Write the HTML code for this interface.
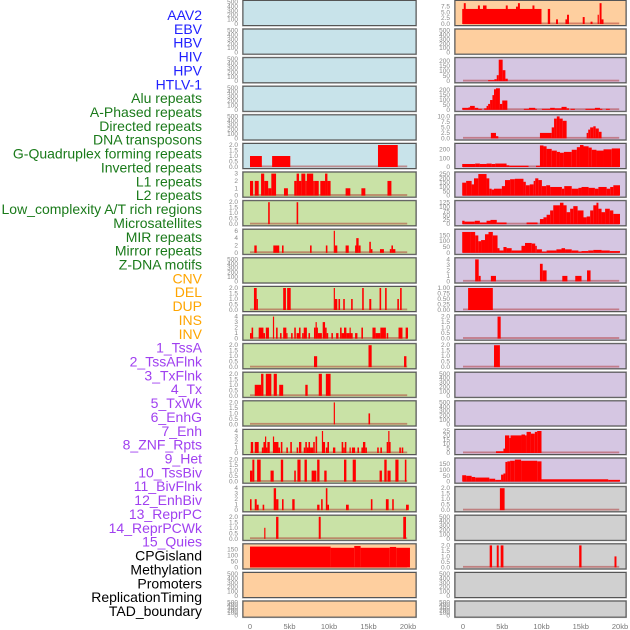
<!DOCTYPE html>
<html><head><meta charset="utf-8"><style>
html,body{margin:0;padding:0;background:#fff;width:630px;height:630px;overflow:hidden}
svg{display:block;font-family:"Liberation Sans",sans-serif}
</style></head><body>
<svg id="chart" width="630" height="630" viewBox="0 0 630 630" xmlns="http://www.w3.org/2000/svg"></svg>
<script>
// ---- track labels ----
const trackLabels = ["AAV2","EBV","HBV","HIV","HPV","HTLV-1","Alu repeats","A-Phased repeats","Directed repeats","DNA transposons","G-Quadruplex forming repeats","Inverted repeats","L1 repeats","L2 repeats","Low_complexity A/T rich regions","Microsatellites","MIR repeats","Mirror repeats","Z-DNA motifs","CNV","DEL","DUP","INS","INV","1_TssA","2_TssAFlnk","3_TxFlnk","4_Tx","5_TxWk","6_EnhG","7_Enh","8_ZNF_Rpts","9_Het","10_TssBiv","11_BivFlnk","12_EnhBiv","13_ReprPC","14_ReprPCWk","15_Quies","CPGisland","Methylation","Promoters","ReplicationTiming","TAD_boundary"];
const labelGroups = [6,13,5,15,5];
const groupColors = ["#2020ff","#1a7a1a","#ffa500","#a040f0","#000000"];
const xTicks = [0,5,10,15,20];
const xTickLabels = ["0","5kb","10kb","15kb","20kb"];

// ---- left column bars [startKb,endKb,value] ----
const L5 = [[0,1.5,1],[2.8,5.1,1],[16.2,18.7,2]];
const L6 = [[0,0.4,2],[0.6,1.1,2],[1.4,1.8,3],[1.8,2.3,2],[2.3,2.7,1],[2.7,3.3,3],[4.3,4.8,1],[5.6,5.9,2],[5.9,6.2,3],[6.2,6.5,2],[6.5,7.0,3],[7.0,7.2,2],[7.2,8.0,3],[8.0,8.2,2],[8.2,8.7,2],[8.9,9.5,2],[9.5,9.8,3],[9.8,10.2,2],[12.1,12.7,1],[14.1,14.6,1],[17.4,17.9,2]];
const L7 = [[2.3,2.5,2],[5.9,6.1,2]];
const L8 = [[0.55,0.85,2],[2.95,3.7,2],[4.05,4.25,2],[7.6,7.8,2],[9.6,9.8,2],[10.6,10.75,6],[10.75,11.05,2],[12.1,12.5,2],[13.3,13.5,2],[13.45,13.75,4],[13.75,14,2],[15.1,15.3,3],[15.3,15.5,1],[16.45,16.95,1],[17.7,17.9,1],[17.9,18.1,2],[18.1,18.4,1]];
const L10 = [[0.5,0.85,2],[0.85,1,1],[4.2,4.55,2],[4.7,5.15,2],[10.6,10.75,2],[10.75,11.05,1],[11.2,11.4,1],[11.8,12,1],[12.8,13,1],[14.2,14.4,2],[15.1,15.35,1],[16.4,16.6,2],[17.1,17.3,2],[18.65,18.85,1],[19,19.2,2]];
const L11 = [[0,0.2,1],[0.2,0.4,2],[1.1,1.7,2],[1.7,1.9,1],[2.0,2.4,2],[2.9,3.0,4],[3.3,3.5,2],[3.8,4.0,1],[4.2,4.6,2],[4.6,4.7,1],[5.2,5.4,1],[5.6,5.8,2],[5.9,6.2,1],[6.2,6.4,2],[6.6,6.8,1],[6.8,7.2,2],[7.4,7.6,1],[8.1,8.3,2],[8.3,8.4,3],[8.4,8.6,2],[8.6,9.1,1],[9.2,9.5,3],[9.5,9.7,2],[9.7,9.9,1],[10.3,10.5,1],[10.9,11.2,1],[11.4,11.6,2],[11.6,11.9,1],[11.9,12.2,2],[12.2,12.6,1],[12.6,12.7,2],[12.7,13.0,1],[13.3,13.6,1],[14.1,14.3,2],[15.5,15.9,2],[15.9,16.5,1],[16.5,17.2,2],[17.3,17.5,1],[18.8,19.3,2],[19.7,20.0,2]];
const L12 = [[8.1,8.5,1],[15.0,15.4,2],[19.5,19.8,1]];
const L13 = [[0.6,1.4,1],[1.4,1.7,2],[2.0,2.7,2],[3.0,3.4,2],[3.7,4.2,1],[7.0,7.3,1],[8.7,9.1,2],[9.6,10.2,2]];
const L14 = [[10.6,10.75,2],[15.0,15.2,1]];
const L15 = [[0.1,0.4,2],[0.6,1.1,2],[1.5,1.7,1],[1.7,1.9,2],[1.9,2.0,3],[2.0,2.2,1],[2.2,2.5,2],[2.9,3.0,3],[3.0,3.6,2],[3.6,3.8,1],[3.9,4.1,2],[4.6,4.8,1],[5.1,5.3,2],[5.9,6.1,1],[6.2,6.5,2],[6.8,7.0,1],[7.0,7.2,2],[7.2,7.4,1],[7.4,7.6,2],[7.6,8.0,1],[8.0,8.2,2],[8.3,8.5,3],[9.1,9.2,4],[9.2,9.5,2],[9.6,9.8,1],[9.8,10.0,2],[10.5,10.8,1],[11.6,11.8,2],[11.8,12.0,1],[12.0,12.2,2],[12.6,12.7,1],[12.9,13.3,1],[13.6,13.8,1],[14.1,14.3,1],[14.3,14.6,2],[14.6,14.8,1],[16.1,16.3,1],[16.5,16.7,1],[17.3,17.5,2],[17.5,17.6,4],[17.6,17.8,2],[18.9,19.1,1],[19.2,19.4,1]];
const L16 = [[0,0.3,1],[0.3,0.55,2],[0.9,1.35,2],[2.6,3.0,1],[3.9,4.2,2],[5.6,5.8,1],[6.0,6.4,2],[6.9,7.2,2],[7.8,8.4,1],[8.5,8.8,2],[9.4,9.7,1],[11.9,12.2,2],[13.0,13.4,2],[16.4,16.7,1],[17.0,17.3,2],[17.4,17.8,1],[18.4,18.8,2],[19.6,19.8,2]];
const L17 = [[0,0.2,2],[0.6,0.85,2],[0.85,1.1,1],[1.6,1.8,1],[3.0,3.3,4],[3.3,3.6,2],[4.05,4.25,2],[5.35,5.65,2],[8.5,8.8,1],[9.0,9.2,2],[9.6,9.8,4],[9.8,10.0,1],[12.15,12.5,1],[15.3,15.5,2],[17.2,17.55,2],[18.0,18.2,2],[19.75,20.1,1]];
const L18 = [[1.8,1.95,1],[3.3,3.6,2],[8.7,8.95,2],[19.4,19.75,2]];
const L19 = [[0,10.2,175],[10.2,13.2,165],[13.2,14.0,180],[14.0,17.7,165],[17.7,18.5,172],[18.5,20.25,165]];

// ---- right column ----
const R0 = [[-0.1,10.0,6.5],[0.1,0.35,9],[1.9,2.15,8],[2.55,3.0,8],[5.45,5.7,8],[6.75,7.0,7.5],[7.0,7.25,9],[8.85,9.1,8],[10.8,11.1,6.5],[11.85,12.1,2],[13.05,13.25,2],[13.25,13.5,4],[15.25,15.5,3],[16.25,16.5,1],[17.15,17.3,4],[17.4,17.65,9],[17.65,17.9,2]];
const R2 = [[3.2,4.0,10],[4.0,4.3,20],[4.3,4.55,60],[4.55,5.05,215],[5.05,5.4,110],[5.4,5.7,25]];
const R3 = [[-0.1,0.7,20],[0.7,0.9,25],[0.9,1.5,40],[1.5,1.95,20],[1.95,2.4,10],[2.7,3.0,15],[3.0,3.2,40],[3.2,3.45,60],[3.45,3.75,100],[3.75,3.95,150],[3.95,4.2,210],[4.2,4.7,220],[4.7,5.0,60],[5.0,5.65,95],[7.75,8.4,10],[8.4,9.2,20],[9.2,9.4,10],[10.05,11.1,10],[11.1,11.7,20],[11.7,12.55,15],[12.55,13.2,30],[13.2,13.5,15],[13.7,14.25,10],[15.6,16.8,10],[16.8,17.45,20],[17.45,17.75,10],[18.2,18.7,10]];
const R4 = [[3.55,4.2,2.5],[4.2,4.5,1],[9.8,11.3,2.5],[11.3,11.6,5],[11.6,11.95,9],[11.95,12.3,10],[12.3,12.7,9],[12.7,13.2,8],[15.75,15.95,2.5],[15.95,16.2,4],[16.2,16.6,5],[16.6,16.9,5.5],[16.9,17.3,4.5],[17.3,17.65,3]];
const R5edges = [-0.1,1.55,2.15,3.0,3.65,4.1,5.55,5.9,8.35,9.3,9.8,10.25,10.65,11.3,11.95,12.35,12.85,13.85,14.5,14.9,15.35,16.0,16.4,17.0,17.9,18.95,20.0];
const R5vals = [35,40,35,40,35,40,20,15,0,15,250,240,210,190,175,165,175,200,230,255,240,225,200,190,205,215];
const R6edges = [-0.1,0.4,1.1,1.4,1.95,3.0,3.35,3.65,3.95,4.95,5.35,6.0,6.6,7.7,8.0,8.5,9.0,9.2,9.6,10.05,10.6,11.1,12.6,12.9,13.85,14.7,15.1,16.0,16.8,17.25,18.3,18.75,19.15,20.0];
const R6vals = [150,170,130,200,250,200,80,70,80,110,180,190,195,160,120,130,170,200,180,110,120,100,80,110,80,90,100,90,80,100,80,100,120];
const R7edges = [-0.1,0.2,1.5,2.15,3.0,3.5,4.3,5.55,8.1,9.5,9.8,10.25,10.65,11.1,11.5,12.35,12.8,13.2,13.65,14.05,14.6,15.35,15.75,16.2,16.6,17.0,17.25,17.65,18.1,18.7,19.15,20.0];
const R7vals = [20,15,20,10,20,25,10,0,10,0,30,40,55,80,110,125,110,70,90,105,80,40,45,80,110,125,90,70,90,80,60];
const R8edges = [-0.1,0.9,1.55,1.95,2.3,2.8,3.25,3.8,4.4,4.65,5.15,5.55,6.2,7.45,7.9,8.75,9.2,9.4,10.05,10.65,11.9,12.55,13.0,13.85,14.7,15.1,15.95,16.6,17.65,18.7,20.0];
const R8vals = [180,180,150,100,110,160,180,150,40,20,50,40,20,60,85,80,60,30,10,20,30,40,30,20,10,15,20,25,20,15];
const R9 = [[1.55,2.0,4],[2.0,2.25,1],[3.55,4.2,1],[9.8,10.15,3.2],[10.15,10.65,2],[12.65,13.3,1],[14.3,15.1,1],[15.8,16.25,2]];
const R10 = [[0.65,3.8,1]];
const R11 = [[4.4,4.8,2]];
const R12 = [[3.95,4.7,2]];
const R15edges = [4.2,5.15,5.35,5.9,6.05,7.45,7.9,8.1,8.65,9.15,9.45,10.0];
const R15vals = [2,5,20,17,20,21,20,24,22,24,25];
const R16edges = [-0.1,0.4,1.1,1.55,3.35,4.1,4.85,5.15,5.4,5.65,6.0,6.6,7.4,9.45,10.0,18.5,20.0];
const R16vals = [55,50,40,35,25,15,60,70,170,175,180,190,180,175,20,15];
const R17 = [[4.7,5.3,2]];
const R19 = [[3.4,3.7,2],[4.3,4.55,2],[4.8,5.15,2],[14.8,15.1,2],[19.3,19.55,1]];

// tick sets
const T500 = [0,100,200,300,400,500];
const T500L = ["0","100","200","300","400","500"];
const T2 = [0,0.5,1,1.5,2];
const T2L = ["0.0","0.5","1.0","1.5","2.0"];
const T3 = [0,1,2,3]; const T3L = ["0","1","2","3"];
const T4 = [0,1,2,3,4]; const T4L = ["0","1","2","3","4"];
const T6 = [0,2,4,6]; const T6L = ["0","2","4","6"];
const T150 = [0,50,100,150]; const T150L = ["0","50","100","150"];
const T200 = [0,50,100,150,200]; const T200L = ["0","50","100","150","200"];
const T250 = [0,50,100,150,200,250]; const T250L = ["0","50","100","150","200","250"];
const T125 = [0,25,50,75,100,125]; const T125L = ["0","25","50","75","100","125"];
const T7 = [0,2.5,5,7.5]; const T7L = ["0.0","2.5","5.0","7.5"];
const T10 = [0,2.5,5,7.5,10]; const T10L = ["0.0","2.5","5.0","7.5","10.0"];
const T1 = [0,0.25,0.5,0.75,1]; const T1L = ["0.00","0.25","0.50","0.75","1.00"];
const TR5 = [0,100,200]; const TR5L = ["0","100","200"];
const T25 = [0,5,10,15,20,25]; const T25L = ["0","5","10","15","20","25"];

const BLUE="#c8e3ea", GREEN="#c9e2a6", PEACH="#fecf9f", PURPLE="#d5c6e2", GREY="#d0d0d0";
const leftPanels = [
 [BLUE,500,T500,T500L,null],[BLUE,500,T500,T500L,null],[BLUE,500,T500,T500L,null],[BLUE,500,T500,T500L,null],[BLUE,500,T500,T500L,null],
 [BLUE,2,T2,T2L,L5],[GREEN,3,T3,T3L,L6],[GREEN,2,T2,T2L,L7],[GREEN,6,T6,T6L,L8],[GREEN,500,T500,T500L,null],
 [GREEN,2,T2,T2L,L10],[GREEN,4,T4,T4L,L11],[GREEN,2,T2,T2L,L12],[GREEN,2,T2,T2L,L13],[GREEN,2,T2,T2L,L14],
 [GREEN,4,T4,T4L,L15],[GREEN,2,T2,T2L,L16],[GREEN,4,T4,T4L,L17],[GREEN,2,T2,T2L,L18],[PEACH,185,T150,T150L,L19],
 [PEACH,500,T500,T500L,null],[PEACH,500,T500,T500L,null]];
const rightPanels = [
 [PEACH,9.5,T7,T7L,R0],[PEACH,500,T500,T500L,null],[PURPLE,220,T200,T200L,R2],[PURPLE,225,T200,T200L,R3],[PURPLE,10,T10,T10L,R4],
 [PURPLE,255,TR5,TR5L,[R5edges,R5vals]],[PURPLE,255,T250,T250L,[R6edges,R6vals]],[PURPLE,128,T125,T125L,[R7edges,R7vals]],[PURPLE,190,T150,T150L,[R8edges,R8vals]],[PURPLE,4,T4,T4L,R9],
 [PURPLE,1,T1,T1L,R10],[PURPLE,2,T2,T2L,R11],[PURPLE,2,T2,T2L,R12],[PURPLE,500,T500,T500L,null],[PURPLE,500,T500,T500L,null],
 [PURPLE,25,T25,T25L,[R15edges,R15vals]],[PURPLE,190,T150,T150L,[R16edges,R16vals]],[GREY,2,T2,T2L,R17],[GREY,500,T500,T500L,null],[GREY,2,T2,T2L,R19],
 [GREY,500,T500,T500L,null],[GREY,500,T500,T500L,null]];

const NS="http://www.w3.org/2000/svg";
const svg=document.getElementById('chart');
function mk(tag,attrs,parent){const e=document.createElementNS(NS,tag);for(const k in attrs)e.setAttribute(k,attrs[k]);(parent||svg).appendChild(e);return e;}

// labels
let li=0;
labelGroups.forEach((n,g)=>{for(let i=0;i<n;i++){const t=mk('text',{x:202,y:(20+li*13.86).toFixed(1),'text-anchor':'end','font-size':'14',fill:groupColors[g]});t.textContent=trackLabels[li];


li++;}});

const cols=[{x0:243,x1:416,z:250,s:7.9,panels:leftPanels,name:'left'},{x0:455,x1:626,z:463,s:7.85,panels:rightPanels,name:'right'}];
cols.forEach(c=>{
 const xs=kb=>c.z+kb*c.s;
 c.panels.forEach((p,k)=>{
  const top=28.6*k+0.5, h=(k===21?16:25);
  const g=mk('g',{});
  
  
  mk('rect',{x:c.x0-0.5,y:top-0.5,width:c.x1-c.x0+1,height:h+1,fill:'none',stroke:'#aaa','stroke-width':1},g);
  mk('rect',{x:c.x0,y:top,width:c.x1-c.x0,height:h,fill:p[0],stroke:'#555','stroke-width':1},g);
  const y0=top+h-1.5, yt=top+1.5;
  const ys=v=>y0-(Math.min(v,p[1])/p[1])*(y0-yt);
  // ticks
  p[2].forEach((v,i)=>{const t=mk('text',{x:c.x0-5,y:(ys(v)+2).toFixed(1),'text-anchor':'end','font-size':'6.5',fill:'#888'},g);t.textContent=p[3][i];
   
   });
  const d=p[4]; if(!d) return;
  let bars=[];
  if(d.length===2 && Array.isArray(d[0]) && typeof d[0][0]==='number' && d[0].length===d[1].length+1){
   for(let i=0;i<d[1].length;i++) bars.push([d[0][i],d[0][i+1],d[1][i]]);
  } else bars=d;
  mk('rect',{x:xs(0),y:y0-1.5,width:xs(19.9)-xs(0),height:1.8,fill:'rgba(170,30,30,0.45)'},g);
  bars.forEach(b=>{if(b[2]<=0)return;const r=mk('rect',{x:xs(b[0]).toFixed(2),y:ys(b[2]).toFixed(2),width:Math.max(1.2,xs(b[1])-xs(b[0])).toFixed(2),height:(y0-ys(b[2])).toFixed(2),fill:'#ff0000'},g);
   
   });
 });
 xTicks.forEach((v,i)=>{const t=mk('text',{x:xs(v),y:629,'text-anchor':'middle','font-size':'7.5',fill:'#777'});t.textContent=xTickLabels[i];
  
  });
});
</script>
</body></html>
